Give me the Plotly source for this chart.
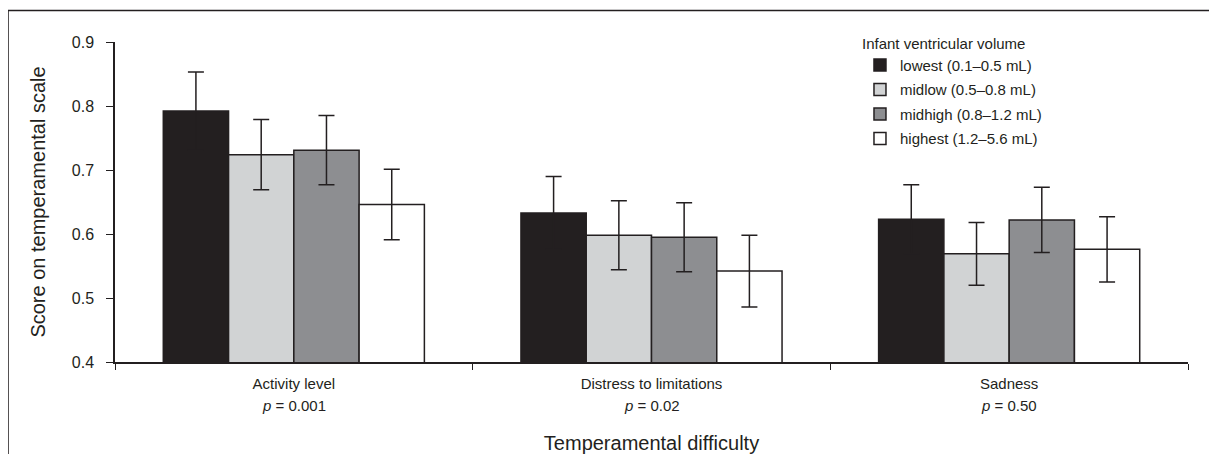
import plotly.graph_objects as go

categories = ["Activity level", "Distress to limitations", "Sadness"]
p_values = ["<i>p</i> = 0.001", "<i>p</i> = 0.02", "<i>p</i> = 0.50"]
series_names = ["lowest (0.1–0.5 mL)", "midlow (0.5–0.8 mL)", "midhigh (0.8–1.2 mL)", "highest (1.2–5.6 mL)"]
lowest = [0.792, 0.633, 0.623]
midlow = [0.724, 0.598, 0.569]
midhigh = [0.731, 0.595, 0.622]
highest = [0.646, 0.542, 0.576]
lowest_err = [0.061, 0.057, 0.054]
midlow_err = [0.055, 0.054, 0.049]
midhigh_err = [0.054, 0.054, 0.051]
highest_err = [0.055, 0.056, 0.051]
y_ticks = [0.4, 0.5, 0.6, 0.7, 0.8, 0.9]

INK = "#231f20"
colors = [INK, "#d1d3d4", "#8d8e91", "#ffffff"]
values = [lowest, midlow, midhigh, highest]
errors = [lowest_err, midlow_err, midhigh_err, highest_err]
FONT = "Liberation Sans, Arial, sans-serif"

fig = go.Figure()
for k, (name, vals, errs, col) in enumerate(zip(series_names, values, errors, colors)):
    fig.add_trace(go.Bar(
        x=categories, y=vals, name=name, legendgroup=f"g{k}",
        marker=dict(color=col, line=dict(color=INK, width=1.5)),
        error_y=dict(type="data", array=errs, visible=True, color=INK, thickness=1.5, width=8),
    ))

for i, p in enumerate(p_values):
    fig.add_annotation(x=categories[i], y=0, xref="x", yref="paper", yanchor="middle", yshift=-43,
                       text=p, showarrow=False, font=dict(family=FONT, size=15, color=INK))

# outer frame (left and top edges visible)
fig.add_shape(type="rect", xref="paper", yref="paper", x0=-0.0997, x1=1.2, y0=-0.5, y1=1.0984,
              line=dict(color=INK, width=1.5), fillcolor="rgba(0,0,0,0)", layer="below")

fig.update_layout(
    width=1209, height=446,
    margin=dict(l=107, r=29, t=34, b=92, autoexpand=False),
    paper_bgcolor="white", plot_bgcolor="white",
    barmode="group", bargap=0.27, bargroupgap=0,
    font=dict(family=FONT, color=INK),
    showlegend=True,
    legend=dict(
        x=0.6943, y=1.04, xanchor="left", yanchor="top",
        title=dict(text="Infant ventricular volume", font=dict(size=15, color=INK)),
        font=dict(size=15, color=INK), bgcolor="rgba(0,0,0,0)", itemwidth=30,
        tracegroupgap=2,
    ),
    xaxis=dict(
        showline=True, linecolor=INK, linewidth=1.5, ticks="outside", ticklen=6,
        tickcolor=INK, tickson="boundaries", tickfont=dict(size=15, color=INK),
        ticklabelstandoff=7,
        showgrid=False, zeroline=False,
        title=dict(text="Temperamental difficulty", font=dict(size=20, color=INK), standoff=46),
    ),
    yaxis=dict(
        range=[0.4, 0.9], tickvals=y_ticks, tickformat=".1f",
        showline=True, linecolor=INK, linewidth=1.5, ticks="outside", ticklen=7,
        tickcolor=INK, tickfont=dict(size=16, color=INK), ticklabelstandoff=9,
        showgrid=False, zeroline=False,
        title=dict(text="Score on temperamental scale", font=dict(size=20, color=INK), standoff=21),
    ),
)

fig.write_html("out.html")
